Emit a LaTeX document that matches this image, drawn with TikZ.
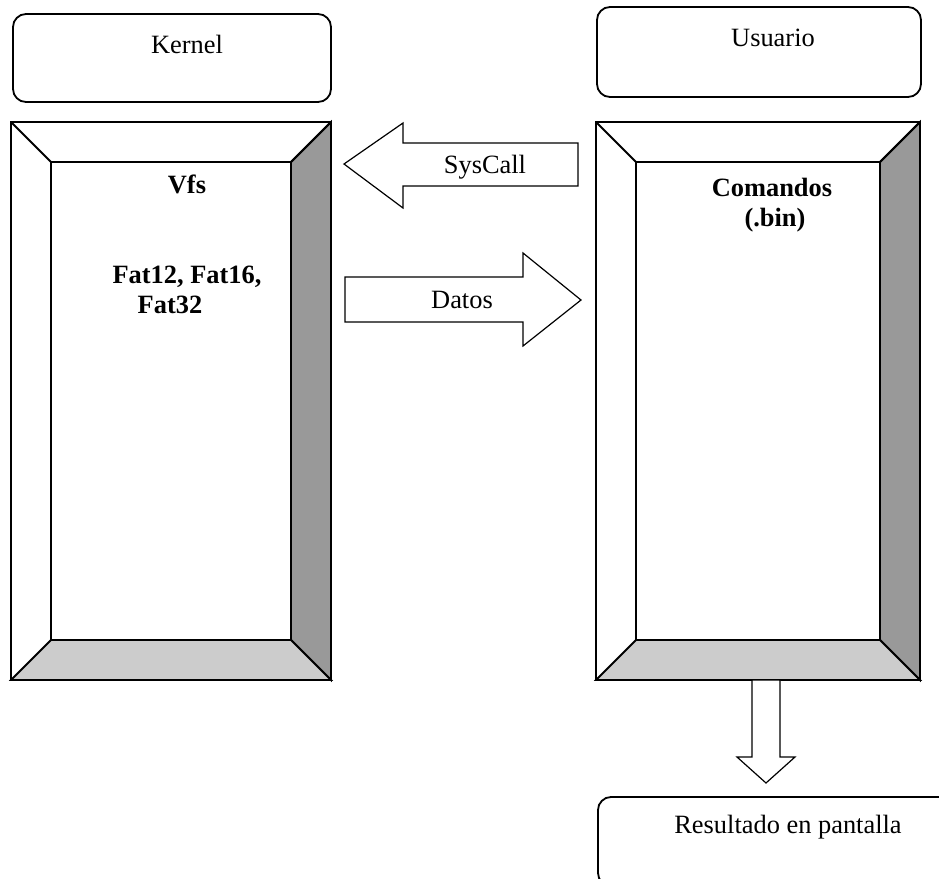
\documentclass[tikz,border=0pt]{standalone}
\usepackage{fontspec}
\setmainfont{Liberation Serif}
\usepackage{xcolor}
\usepackage{tikz}
\usetikzlibrary{calc,positioning}

\definecolor{sidegray}{HTML}{999999}
\definecolor{basegray}{HTML}{CCCCCC}

% bevelled frame: name, left, top, right, bottom
\newcommand{\bevelbox}[5]{%
  \coordinate (#1-nw) at (#2,#3);
  \coordinate (#1-ne) at (#4,#3);
  \coordinate (#1-se) at (#4,#5);
  \coordinate (#1-sw) at (#2,#5);
  \coordinate (#1-inw) at ($(#1-nw)+(40,40)$);
  \coordinate (#1-ine) at ($(#1-ne)+(-40,40)$);
  \coordinate (#1-ise) at ($(#1-se)+(-40,-40)$);
  \coordinate (#1-isw) at ($(#1-sw)+(40,-40)$);
  \filldraw[frame,fill=sidegray] (#1-ne) -- (#1-se) -- (#1-ise) -- (#1-ine) -- cycle;
  \filldraw[frame,fill=basegray] (#1-sw) -- (#1-se) -- (#1-ise) -- (#1-isw) -- cycle;
  \draw[frame] (#1-nw) rectangle (#1-se);
  \draw[frame] (#1-inw) rectangle (#1-ise);
  \draw[frame] (#1-nw) -- (#1-inw);
  \draw[frame] (#1-ne) -- (#1-ine);
}

\begin{document}
\begin{tikzpicture}[x=0.5pt,y=-0.5pt,
    frame/.style={line width=0.9pt,line join=miter},
    roundbox/.style={draw,line width=0.9pt,rounded corners=6.5pt},
    fatarrow/.style={draw,fill=white,line width=0.6pt,line join=miter},
    txt/.style={font=\fontsize{13.2}{15.8}\selectfont},
    btxt/.style={font=\fontsize{13.2}{15.8}\selectfont\bfseries}]
  \useasboundingbox (0,0) rectangle (939,879);

  % top boxes
  \draw[roundbox] (13,14) rectangle (331,102);
  \node[txt] (kernel) at (187,44) {Kernel};
  \draw[roundbox] (597,7) rectangle (921,97);
  \node[txt] (usuario) at (773,38) {Usuario};

  % frames
  \bevelbox{kern}{11}{122}{331}{680}
  \bevelbox{user}{596}{122}{920}{680}

  \node[btxt] (vfs) at (187,184) {Vfs};
  \node[btxt] (fat) at (187,277) {Fat12, Fat16,};
  \node[btxt] (fat32) at (170,305) {Fat32};
  \node[btxt] (comandos) at (772,187) {Comandos};
  \node[btxt] (bin) at (775,220) {(.bin)};

  % SysCall arrow (points left)
  \coordinate (sc-tip) at (344,164);
  \draw[fatarrow] (sc-tip) -- (403,123) -- (403,143) -- (578,143) -- (578,186)
    -- (403,186) -- (403,208) -- cycle;
  \node[txt] (syscall) at (485,167) {SysCall};

  % Datos arrow (points right)
  \coordinate (dt-tip) at (581,300);
  \draw[fatarrow] (dt-tip) -- (523,346) -- (523,322) -- (345,322) -- (345,277)
    -- (523,277) -- (523,253) -- cycle;
  \node[txt] (datos) at (462,300) {Datos};

  % down arrow
  \coordinate (dn-tip) at (766,783);
  \draw[fatarrow] (dn-tip) -- (795,757) -- (780,757) -- (780,680) -- (752,680)
    -- (752,757) -- (737,757) -- cycle;

  % result box, cut at the page edge
  \begin{scope}
    \clip (0,0) rectangle (939,879);
    \draw[roundbox] (598,797) rectangle (975,886);
  \end{scope}
  \node[txt] (resultado) at (788,827) {Resultado en pantalla};
\end{tikzpicture}
\end{document}
